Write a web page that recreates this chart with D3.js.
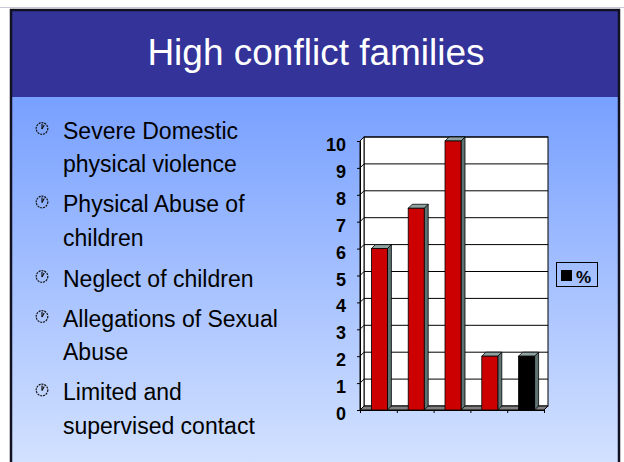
<!DOCTYPE html>
<html>
<head>
<meta charset="utf-8">
<script src="https://cdn.jsdelivr.net/npm/d3@7"></script>
<style>
  html, body { margin: 0; padding: 0; background: #fff; }
  svg { display: block; font-family: "Liberation Sans", Arial, sans-serif; }
</style>
</head>
<body>
<svg id="slide" width="624" height="462"></svg>
<script>
'use strict';

// ─── Data ─────────────────────────────────────────────────────────────────────
const title      = 'High conflict families';
const bullets    = [
  ['Severe Domestic', 'physical violence'],
  ['Physical Abuse of', 'children'],
  ['Neglect of children'],
  ['Allegations of Sexual', 'Abuse'],
  ['Limited and', 'supervised contact']
];
const categories = ['Severe Domestic physical violence', 'Physical Abuse of children',
                    'Neglect of children', 'Allegations of Sexual Abuse', 'Limited and supervised contact'];
const values     = [6, 7.5, 10, 2, 2];
const yTicks     = [0, 1, 2, 3, 4, 5, 6, 7, 8, 9, 10];
const seriesName = '%';
const highlightIndex = 4;   // last bar drawn black

// ─── Setup ────────────────────────────────────────────────────────────────────
const svg = d3.select('#slide');
const W = 624, H = 462;

const defs = svg.append('defs');
const grad = defs.append('linearGradient').attr('id', 'bodyGrad')
  .attr('x1', 0).attr('y1', 0).attr('x2', 0).attr('y2', 1);
grad.append('stop').attr('offset', '0%').attr('stop-color', '#78a0ff');
grad.append('stop').attr('offset', '100%').attr('stop-color', '#d2e1ff');

// background + frame
svg.append('rect').attr('width', W).attr('height', H).attr('fill', '#fff');
svg.append('line').attr('x1', 0).attr('x2', W).attr('y1', 7.5).attr('y2', 7.5)
  .attr('stroke', '#c8c8d8').attr('stroke-width', 1);
svg.append('rect').attr('x', 11).attr('y', 97).attr('width', 608).attr('height', H - 97)
  .attr('fill', 'url(#bodyGrad)');
svg.append('rect').attr('x', 11).attr('y', 10).attr('width', 608).attr('height', 87)
  .attr('fill', '#333399');
svg.append('rect').attr('x', 11).attr('y', 10).attr('width', 608).attr('height', H)
  .attr('fill', 'none').attr('stroke', '#111122').attr('stroke-width', 2.5);

svg.append('text')
  .attr('x', 316).attr('y', 64.5)
  .attr('text-anchor', 'middle')
  .attr('font-size', 37)
  .attr('fill', '#fff')
  .text(title);

// ─── Bullets ──────────────────────────────────────────────────────────────────
const itemTops = [138.5, 212, 286.5, 326.5, 400];
const lineGap = 33.5;
const bl = svg.append('g');
bullets.forEach((lines, i) => {
  const y0 = itemTops[i];
  const ic = bl.append('g').attr('transform', `translate(42,${y0 - 10})`)
    .attr('fill', 'none').attr('stroke', '#111').attr('stroke-width', 1.2);
  ic.append('circle').attr('r', 5.8).attr('stroke-dasharray', '2 0.9');
  ic.append('line').attr('x1', 0).attr('y1', 0.5).attr('x2', 0).attr('y2', -4.5);
  ic.append('line').attr('x1', 0).attr('y1', 0.5).attr('x2', 2.2).attr('y2', -3.5);
  lines.forEach((ln, j) => {
    bl.append('text')
      .attr('x', 63).attr('y', y0 + j * lineGap)
      .attr('font-size', 23)
      .attr('fill', '#000')
      .text(ln);
  });
});

// ─── Chart (3D-style column) ──────────────────────────────────────────────────
const depth = 4;
const x0 = 360, x1 = 544;
const x = d3.scaleBand().domain(categories).range([x0, x1]).paddingInner(0).paddingOuter(0);
const y = d3.scaleLinear().domain([0, 10]).range([410, 141]);
const ch = svg.append('g');

// back wall
ch.append('rect')
  .attr('x', x0 + depth).attr('y', y(10) - depth)
  .attr('width', x1 - x0).attr('height', y(0) - y(10))
  .attr('fill', '#fff').attr('stroke', '#000').attr('stroke-width', 1);
// side wall
ch.append('path')
  .attr('d', `M${x0},${y(0)}L${x0 + depth},${y(0) - depth}L${x0 + depth},${y(10) - depth}L${x0},${y(10)}Z`)
  .attr('fill', '#fff').attr('stroke', '#000').attr('stroke-width', 1);
// gridlines
ch.append('g').selectAll('path').data(yTicks.slice(1)).join('path')
  .attr('d', d => `M${x0},${y(d)}L${x0 + depth},${y(d) - depth}L${x1 + depth},${y(d) - depth}`)
  .attr('fill', 'none').attr('stroke', '#000').attr('stroke-width', 1);
// floor
ch.append('path')
  .attr('d', `M${x0},${y(0)}L${x0 + depth},${y(0) - depth}L${x1 + depth},${y(0) - depth}L${x1},${y(0)}Z`)
  .attr('fill', '#808080').attr('stroke', '#000').attr('stroke-width', 1);

// bars
const bw = 16;
const bars = ch.append('g').selectAll('g').data(values).join('g');
const bx = (d, i) => x(categories[i]) + (x.bandwidth() - bw) / 2 + 1;
bars.append('path')   // side
  .attr('d', (d, i) => {
    const l = bx(d, i) + bw;
    return `M${l},${y(0)}L${l + depth},${y(0) - depth}L${l + depth},${y(d) - depth}L${l},${y(d)}Z`;
  })
  .attr('fill', '#5f7272').attr('stroke', '#000').attr('stroke-width', 0.8);
bars.append('path')   // top
  .attr('d', (d, i) => {
    const l = bx(d, i);
    return `M${l},${y(d)}L${l + depth},${y(d) - depth}L${l + bw + depth},${y(d) - depth}L${l + bw},${y(d)}Z`;
  })
  .attr('fill', '#8fa3a3').attr('stroke', '#000').attr('stroke-width', 0.8);
bars.append('rect')   // front
  .attr('x', (d, i) => bx(d, i)).attr('y', d => y(d))
  .attr('width', bw).attr('height', d => y(0) - y(d))
  .attr('fill', (d, i) => i === highlightIndex ? '#000' : '#cc0000')
  .attr('stroke', '#000').attr('stroke-width', 0.8);

// axes
const yAxis = d3.axisLeft(y).tickValues(yTicks).tickSize(3).tickFormat('');
ch.append('g').attr('transform', `translate(${x0},0)`).call(yAxis)
  .call(g => g.select('.domain').attr('stroke', '#000'));
const xAxis = d3.axisBottom(d3.scaleLinear().domain([0, 5]).range([x0, x1]))
  .tickValues([0, 1, 2, 3, 4, 5]).tickSize(3).tickFormat('');
ch.append('g').attr('transform', `translate(0,${y(0)})`).call(xAxis)
  .call(g => g.select('.domain').attr('stroke', '#000'));

ch.append('g').selectAll('text').data(yTicks).join('text')
  .attr('x', 346).attr('y', d => y(d) + 10)
  .attr('text-anchor', 'end')
  .attr('font-size', 18).attr('font-weight', 'bold')
  .text(d => d);

// legend
const lg = svg.append('g');
lg.append('rect').attr('x', 556.5).attr('y', 262.5).attr('width', 41).attr('height', 24)
  .attr('fill', 'none').attr('stroke', '#000').attr('stroke-width', 1);
lg.append('rect').attr('x', 561).attr('y', 270).attr('width', 11).attr('height', 11).attr('fill', '#000');
lg.append('text').attr('x', 576).attr('y', 282.5)
  .attr('font-size', 17).attr('font-weight', 'bold').text(seriesName);
</script>
</body>
</html>
